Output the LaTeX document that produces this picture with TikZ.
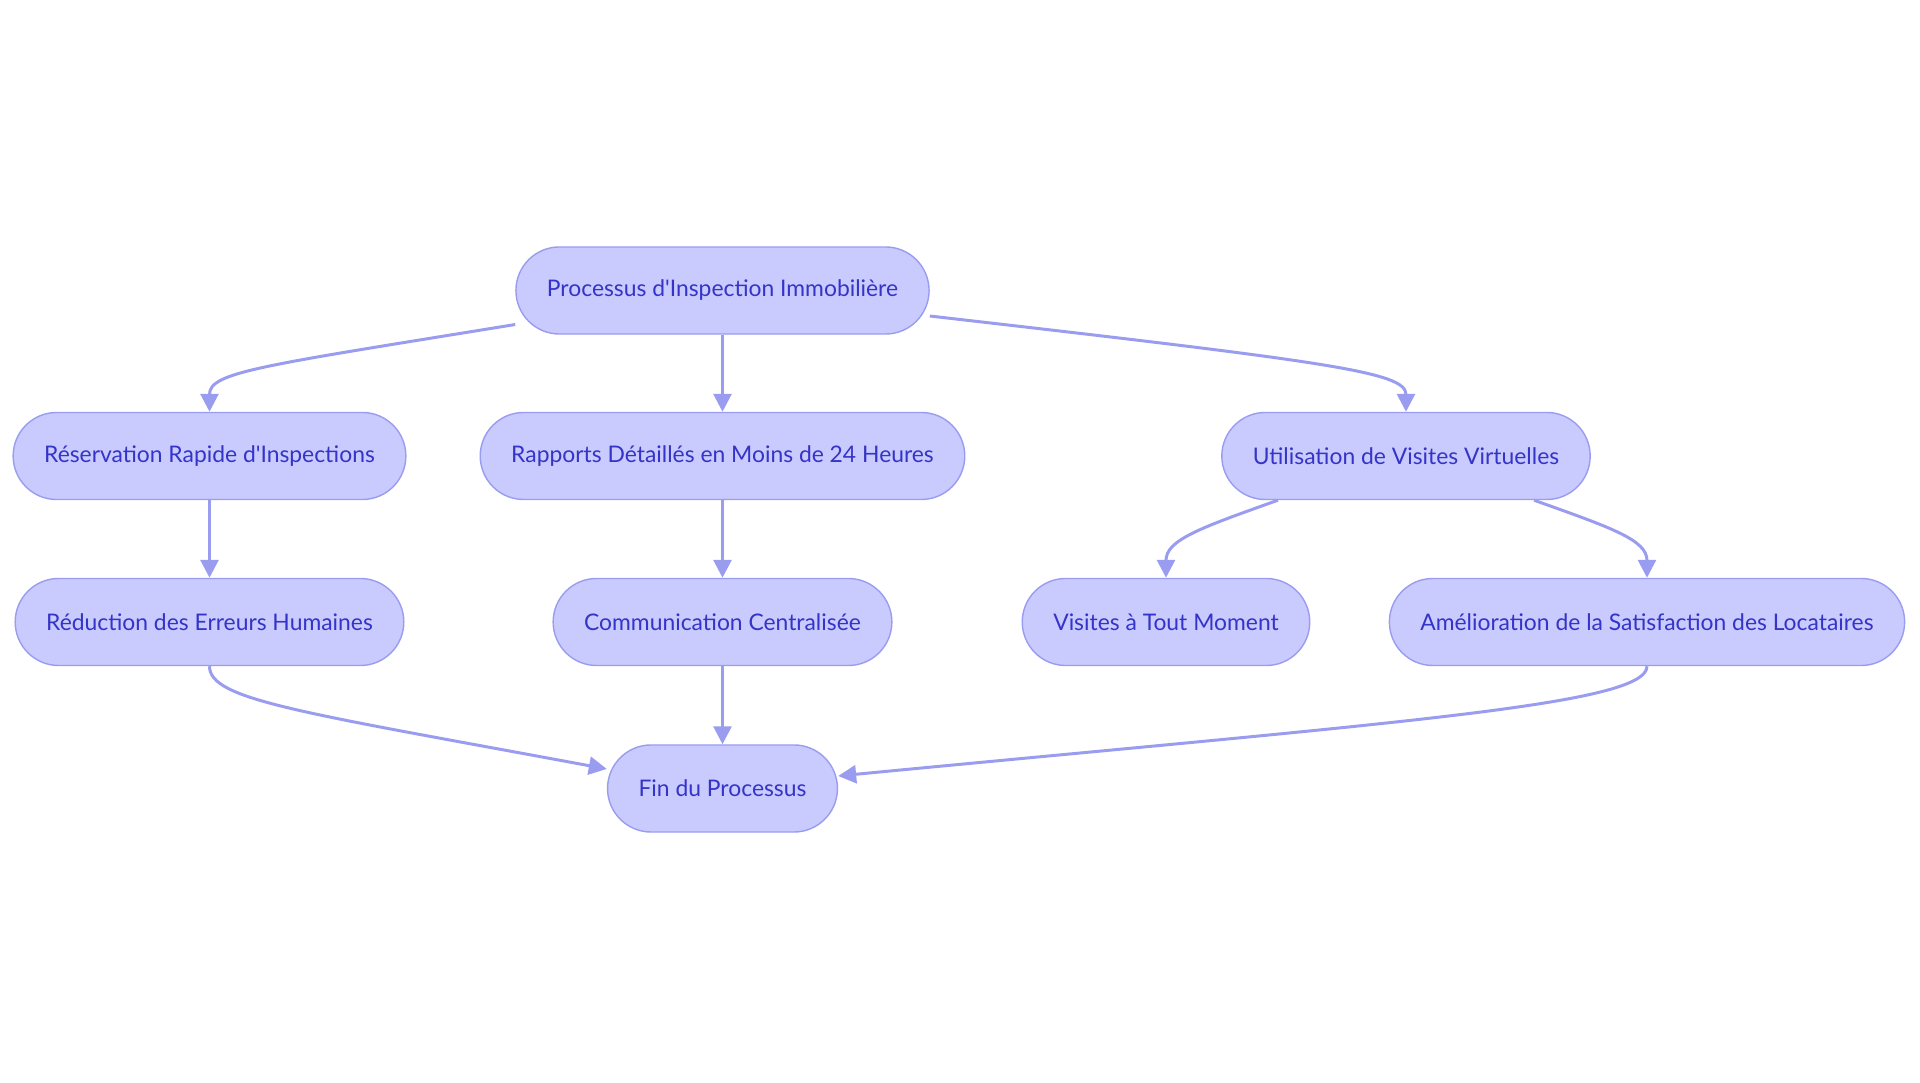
\documentclass[tikz,border=0pt]{standalone}
\usepackage{fontspec}
\setmainfont{Lato}
\usetikzlibrary{arrows.meta}
\definecolor{boxfill}{HTML}{C9CAFD}
\definecolor{boxline}{HTML}{9A9CF0}
\definecolor{boxtext}{HTML}{3434C8}
\definecolor{edgecol}{HTML}{9A9CF0}

\begin{document}
\begin{tikzpicture}[x=0.01cm,y=-0.01cm,
  >={Triangle[length=0.18cm,width=0.18cm]},
  stage/.style={draw=boxline,fill=boxfill,text=boxtext,line width=0.4pt,
    rounded corners=0.435cm,minimum height=0.87cm,inner xsep=0.31cm,
    font=\fontsize{6.5}{8}\selectfont},
  link/.style={->,draw=edgecol,line width=0.85pt}]
\useasboundingbox (0,0) rectangle (1920,1083);
% rows
\node[stage] (proc) at (722.5,290.5) {Processus d\textquotesingle Inspection Immobilière};
\node[stage] (resa) at (209.5,456) {Réservation Rapide d\textquotesingle Inspections};
\node[stage] (rapp) at (722.5,456) {Rapports Détaillés en Moins de 24 Heures};
\node[stage] (virt) at (1406,456) {Utilisation de Visites Virtuelles};
\node[stage] (redu) at (209.5,622) {Réduction des Erreurs Humaines};
\node[stage] (comm) at (722.5,622) {Communication Centralisée};
\node[stage] (visi) at (1166,622) {Visites à Tout Moment};
\node[stage] (amel) at (1647,622) {Amélioration de la Satisfaction des Locataires};
\node[stage] (fin) at (722.5,788.5) {Fin du Processus};
% links
\draw[link] ([yshift=-0.34cm]proc.west) .. controls (260,366) and (209.5,372) .. (resa.north);
\draw[link] (proc) -- (rapp);
\draw[link] ([yshift=-0.255cm]proc.east) .. controls (1330,362) and (1406,372) .. (virt.north);
\draw[link] (resa) -- (redu);
\draw[link] (rapp) -- (comm);
\draw[link] ([xshift=-1.28cm]virt.south) .. controls (1200,528) and (1166,540) .. (visi.north);
\draw[link] ([xshift=1.28cm]virt.south) .. controls (1612,528) and (1647,540) .. (amel.north);
\draw[link] (redu.south) .. controls (209.5,700) and (300,712) .. ([yshift=0.195cm]fin.west);
\draw[link] (comm) -- (fin);
\draw[link] (amel.south) .. controls (1647,705) and (1400,722) .. ([yshift=0.125cm]fin.east);
\end{tikzpicture}
\end{document}
